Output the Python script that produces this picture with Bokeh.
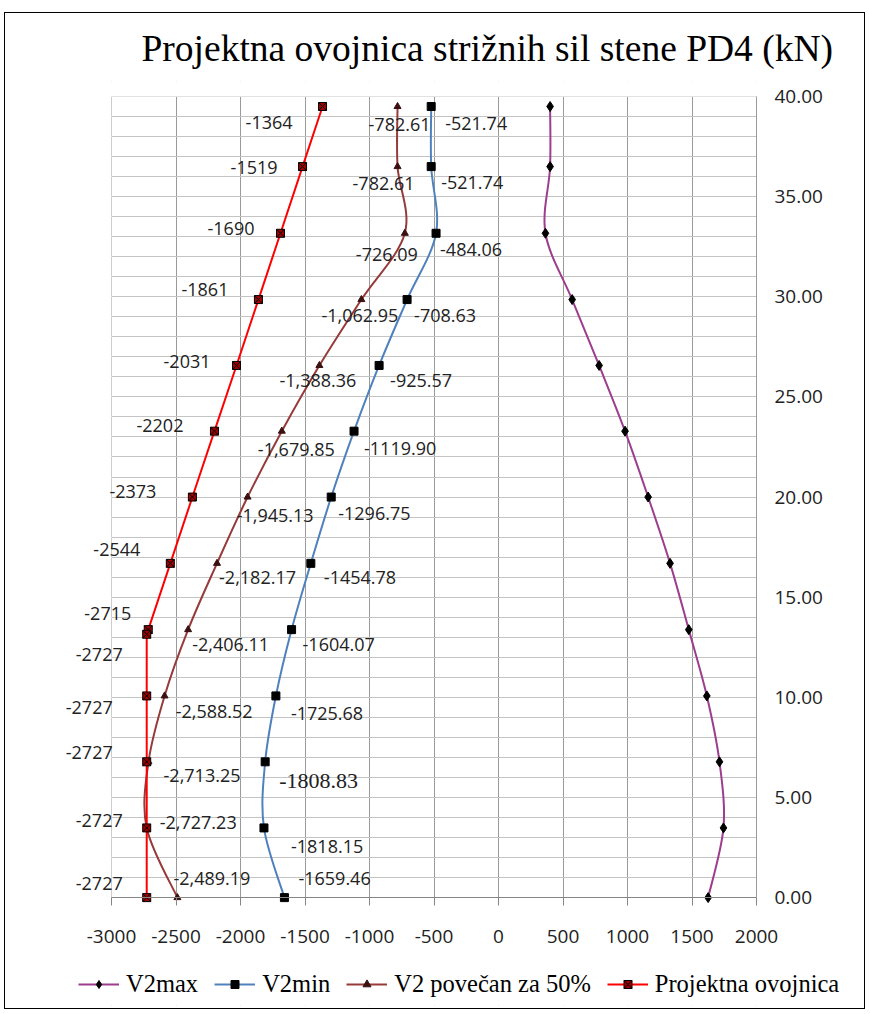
from bokeh.plotting import figure
from bokeh.models import (ColumnDataSource, Range1d, FixedTicker, SingleIntervalTicker,
                          Legend, LegendItem, Title, BoxAnnotation)
from bokeh.core.properties import value
from bokeh.embed import file_html
from bokeh.resources import INLINE

# ---------------- data (top storey -> base) ----------------
levels = [39.5, 36.5, 33.17, 29.86, 26.57, 23.29, 20.0, 16.69, 13.38, 10.07, 6.78, 3.48, 0.0]
v2max = [400, 400, 364, 571, 780, 981, 1160, 1330, 1475, 1615, 1713, 1744, 1625]
v2min = [-521.74, -521.74, -484.06, -708.63, -925.57, -1119.90, -1296.75, -1454.78,
         -1604.07, -1725.68, -1808.83, -1818.15, -1659.46]
v2_50 = [-782.61, -782.61, -726.09, -1062.95, -1388.36, -1679.85, -1945.13, -2182.17,
         -2406.11, -2588.52, -2713.25, -2727.23, -2489.19]
proj_levels = [39.5, 36.5, 33.17, 29.86, 26.57, 23.29, 20.0, 16.69, 13.38, 13.15,
               10.07, 6.78, 3.48, 0.0]
proj = [-1364, -1519, -1690, -1861, -2031, -2202, -2373, -2544, -2715, -2727,
        -2727, -2727, -2727, -2727]

x_ticks = [-3000, -2500, -2000, -1500, -1000, -500, 0, 500, 1000, 1500, 2000]
y_ticks = [0, 5, 10, 15, 20, 25, 30, 35, 40]
x_min, x_max = -3000, 2000
y_min, y_max = 0, 40

series_names = ["V2max", "V2min", "V2 povečan za 50%", "Projektna ovojnica"]
title_text = "Projektna ovojnica  strižnih sil stene PD4 (kN)"

# ---------------- label placement (pixel offsets from each point) ----------------
proj_dx = [-30, -25, -26, -30, -26, -31, -36, -30, -17, -24, -34, -34, -24, -24]
proj_dy = [16, 1, -5, -10, -4, -6, -6, -14, -16, 20, 12, -9, -7, -14]
v50_dx = [33, 17, 13, 37, 37, 53, 66, 79, 81, 88, 92, 90, 73]
v50_dy = [18, 17, 21, 16, 15, 18, 18, 14, 15, 16, 14, -5, -19]
vmin_dx = [14, 10, 4, 7, 11, 10, 7, 13, 11, 15, 14, 27, 14]
vmin_dy = [17, 16, 16, 16, 15, 17, 16, 14, 15, 18, 19, 19, -19]

C_MAX = "#9C3D8E"
C_MIN = "#4F81BD"
C_50 = "#963A3A"
C_PROJ = "#FF0000"
LBL_FONT = "Open Sans"
SERIF = "Liberation Serif"
SERIF_LIST = "Liberation Serif, Times New Roman, serif"

# frame geometry (px). The frame is larger than the plot area (on every side)
# so that labels, axis texts and the legend placed there are not clipped.
W, H = 861, 997
ML, MT, MR = 53, 67, 2
PLOT_W, PLOT_H = 645, 802
PAD_LEFT, PAD_TOP = 53, 15         # px between frame edge and x = -3000 / y = 40
FRAME_W, FRAME_H = W - ML - MR, 925
px_x = PLOT_W / (x_max - x_min)
px_y = PLOT_H / (y_max - y_min)
x_start = x_min - PAD_LEFT / px_x
x_end = x_max + (FRAME_W - PAD_LEFT - PLOT_W) / px_x
y_end = y_max + PAD_TOP / px_y
y_start = y_min - (FRAME_H - PAD_TOP - PLOT_H) / px_y


def bezier_source(xs, ys):
    n = len(xs)
    d = dict(x0=[], y0=[], x1=[], y1=[], cx0=[], cy0=[], cx1=[], cy1=[])
    for i in range(n - 1):
        px, py = (xs[i - 1], ys[i - 1]) if i > 0 else (xs[i], ys[i])
        nx, ny = (xs[i + 2], ys[i + 2]) if i + 2 < n else (xs[i + 1], ys[i + 1])
        d["x0"].append(xs[i]); d["y0"].append(ys[i])
        d["x1"].append(xs[i + 1]); d["y1"].append(ys[i + 1])
        d["cx0"].append(xs[i] + (xs[i + 1] - px) / 6.0)
        d["cy0"].append(ys[i] + (ys[i + 1] - py) / 6.0)
        d["cx1"].append(xs[i + 1] - (nx - xs[i]) / 6.0)
        d["cy1"].append(ys[i + 1] - (ny - ys[i]) / 6.0)
    return ColumnDataSource(d)


p = figure(width=W, height=H, output_backend="svg", toolbar_location=None,
           x_range=Range1d(x_start, x_end), y_range=Range1d(y_start, y_end),
           y_axis_location="right",
           min_border_left=ML, min_border_right=MR,
           min_border_top=MT, min_border_bottom=H - MT - FRAME_H)
p.background_fill_color = "white"
p.border_fill_color = "white"
p.outline_line_color = None

p.title = Title(text=title_text, text_font=SERIF, text_font_size="37.5px",
                text_font_style="normal", align="left", offset=83, standoff=25,
                text_color="black")

# grids
p.xgrid.ticker = FixedTicker(ticks=x_ticks)
p.xgrid.grid_line_color = "#9a9a9a"
p.ygrid.ticker = SingleIntervalTicker(interval=1)
p.ygrid.grid_line_color = "#c4c4c4"

# white masks over the parts of the frame outside the plot area (cover grid only)
for box in (BoxAnnotation(right=x_min), BoxAnnotation(left=x_max),
            BoxAnnotation(top=y_min), BoxAnnotation(bottom=y_max)):
    box.fill_color = "white"
    box.fill_alpha = 1.0
    box.line_alpha = 0
    box.level = "underlay"
    p.add_layout(box)

# axes
xa = p.xaxis[0]
xa.fixed_location = y_min
xa.ticker = FixedTicker(ticks=x_ticks)
xa.bounds = (x_min, x_max)
xa.major_label_overrides = {t: str(t) for t in x_ticks}
xa.major_tick_out = 8
xa.major_tick_in = 0
xa.minor_tick_line_color = None
xa.axis_line_color = "#868686"
xa.major_tick_line_color = "#868686"
xa.major_label_text_font = LBL_FONT
xa.major_label_text_font_size = "19px"
xa.major_label_text_color = "#222222"
xa.major_label_standoff = 24

ya = p.yaxis[0]
ya.fixed_location = x_max
ya.ticker = FixedTicker(ticks=y_ticks)
ya.bounds = (y_min, y_max)
ya.major_label_overrides = {t: f"{t:.2f}" for t in y_ticks}
ya.major_tick_out = 0
ya.major_tick_in = 0
ya.minor_tick_line_color = None
ya.axis_line_color = "#9a9a9a"
ya.major_label_text_font = LBL_FONT
ya.major_label_text_font_size = "19px"
ya.major_label_text_color = "#222222"
ya.major_label_standoff = 18

# ---------------- series ----------------
b_max = p.bezier(source=bezier_source(v2max, levels), x0="x0", y0="y0", x1="x1", y1="y1",
                 cx0="cx0", cy0="cy0", cx1="cx1", cy1="cy1", line_color=C_MAX, line_width=2)
s_max = p.scatter(v2max, levels, marker="diamond", size=10, fill_color="black", line_color="black")

b_min = p.bezier(source=bezier_source(v2min, levels), x0="x0", y0="y0", x1="x1", y1="y1",
                 cx0="cx0", cy0="cy0", cx1="cx1", cy1="cy1", line_color=C_MIN, line_width=2)
s_min = p.scatter(v2min, levels, marker="square", size=8, fill_color="black", line_color="black")

b_50 = p.bezier(source=bezier_source(v2_50, levels), x0="x0", y0="y0", x1="x1", y1="y1",
                cx0="cx0", cy0="cy0", cx1="cx1", cy1="cy1", line_color=C_50, line_width=2)
s_50 = p.scatter(v2_50, levels, marker="triangle", size=7, fill_color="#3a1010", line_color="#3a1010")

l_proj = p.line(proj, proj_levels, line_color=C_PROJ, line_width=2)
s_proj = p.scatter(proj, proj_levels, marker="square_x", size=8, fill_color="#A00000",
                   line_color="black")

# ---------------- data labels ----------------
src_proj = ColumnDataSource(dict(x=proj, y=proj_levels, t=[str(v) for v in proj],
                                 dx=proj_dx, dy=proj_dy))
p.text(x="x", y="y", text="t", x_offset="dx", y_offset="dy", source=src_proj,
       text_align="right", text_baseline="middle", text_font=value(LBL_FONT),
       text_font_size="18px", text_color="#222222")

src_50 = ColumnDataSource(dict(x=v2_50, y=levels, t=[f"{v:,.2f}" for v in v2_50],
                               dx=v50_dx, dy=v50_dy))
p.text(x="x", y="y", text="t", x_offset="dx", y_offset="dy", source=src_50,
       text_align="right", text_baseline="middle", text_font=value(LBL_FONT),
       text_font_size="18px", text_color="#222222")

vmin_fonts = [SERIF_LIST if v == -1808.83 else LBL_FONT for v in v2min]
vmin_sizes = ["22px" if v == -1808.83 else "18px" for v in v2min]
src_min = ColumnDataSource(dict(x=v2min, y=levels, t=[f"{v:.2f}" for v in v2min],
                                dx=vmin_dx, dy=vmin_dy, f=vmin_fonts, fs=vmin_sizes))
p.text(x="x", y="y", text="t", x_offset="dx", y_offset="dy", source=src_min,
       text_align="left", text_baseline="middle", text_font="f",
       text_font_size="fs", text_color="#222222")

# ---------------- legend ----------------
legend = Legend(items=[
    LegendItem(label=series_names[0], renderers=[b_max, s_max]),
    LegendItem(label=series_names[1], renderers=[b_min, s_min]),
    LegendItem(label=series_names[2], renderers=[b_50, s_50]),
    LegendItem(label=series_names[3], renderers=[l_proj, s_proj]),
], orientation="horizontal", location=(20, 7))
legend.label_text_font = SERIF_LIST
legend.label_text_font_style = "normal"
legend.label_text_font_size = "24.5px"
legend.label_text_color = "black"
legend.glyph_width = 41
legend.glyph_height = 20
legend.label_standoff = 7
legend.spacing = 16
legend.padding = 0
legend.margin = 0
legend.background_fill_alpha = 0
legend.border_line_alpha = 0
p.add_layout(legend, "center")

p.styles = {"border": "1px solid black", "margin-left": "4px", "margin-top": "12px"}

open("out.html", "w").write(file_html(p, INLINE))
